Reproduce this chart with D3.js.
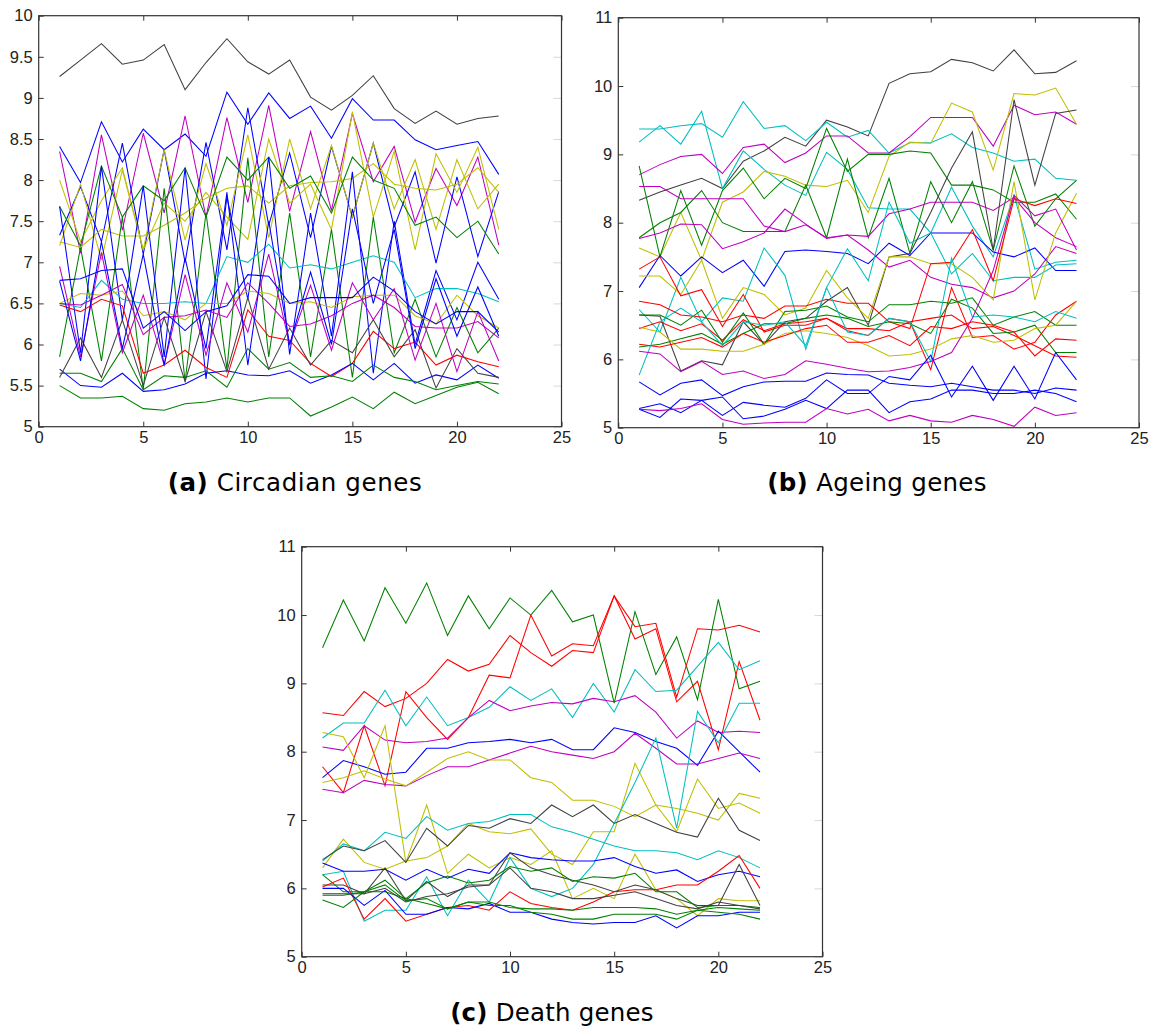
<!DOCTYPE html>
<html><head><meta charset="utf-8">
<script src="https://cdn.jsdelivr.net/npm/d3@7"></script>
<style>html,body{margin:0;padding:0;background:#fff;} svg{display:block}</style>
</head><body>
<svg id="fig" width="1151" height="1027"></svg>
<script>
// ---------------- DATA ----------------
const timePoints = [1,2,3,4,5,6,7,8,9,10,11,12,13,14,15,16,17,18,19,20,21,22];
const xTickValues = [0,5,10,15,20,25];
const xTickLabels = ['0','5','10','15','20','25'];
const circadianYTicks = [5,5.5,6,6.5,7,7.5,8,8.5,9,9.5,10];
const circadianYTickLabels = ['5','5.5','6','6.5','7','7.5','8','8.5','9','9.5','10'];
const elevenYTicks = [5,6,7,8,9,10,11];
const elevenYTickLabels = ['5','6','7','8','9','10','11'];
const captionTags = ['(a)','(b)','(c)'];
const captionTitles = ['Circadian genes','Ageing genes','Death genes'];

// MATLAB colour keys per series
const circadianColors = ['k','b','m','b','y','y','y','g','g','b','c','y','r','m','b','g','g','k','m','b','b'];
const circadianGenes = [
 [9.26,9.46,9.66,9.41,9.46,9.65,9.10,9.43,9.72,9.44,9.29,9.46,9.01,8.85,9.03,9.27,8.87,8.69,8.84,8.68,8.75,8.78],
 [8.41,7.97,8.71,8.22,8.62,8.37,8.56,8.29,9.07,8.68,9.06,8.75,8.90,8.51,8.99,8.73,8.73,8.49,8.37,8.42,8.47,8.07],
 [8.35,7.11,8.55,7.39,8.57,7.60,8.78,7.55,8.76,7.73,8.91,7.62,8.59,7.63,8.81,7.98,8.41,7.49,8.14,7.69,8.28,7.21],
 [7.33,7.92,7.25,8.45,7.10,8.37,7.00,8.46,7.15,8.88,7.45,8.33,7.30,8.41,7.55,8.45,7.43,8.10,6.99,8.04,7.07,7.86],
 [8.00,7.25,7.75,8.15,7.15,8.37,7.27,8.20,7.45,8.55,7.30,8.50,7.65,8.42,7.55,8.45,7.65,8.25,7.40,8.25,7.65,7.95],
 [7.20,7.95,7.03,8.12,7.15,7.72,7.50,7.85,7.55,7.28,8.50,7.72,7.95,7.40,8.83,7.55,8.35,7.15,8.32,7.85,8.40,7.40],
 [7.25,7.18,7.40,7.32,7.32,7.45,7.60,7.78,7.90,7.93,7.72,7.93,7.97,7.98,8.02,8.20,7.95,7.90,7.88,7.95,8.15,7.85],
 [7.68,7.20,8.17,7.55,7.93,7.75,8.15,7.55,8.28,8.00,8.28,7.90,8.05,7.60,8.28,8.00,7.90,7.45,7.55,7.30,7.50,7.10],
 [5.85,7.18,5.80,7.55,5.45,7.90,5.55,7.60,5.70,8.27,5.85,7.60,5.85,7.40,5.60,7.55,5.90,6.55,5.85,6.45,5.90,6.20],
 [7.68,5.90,8.17,6.30,7.93,5.85,8.15,5.58,7.80,6.55,8.28,5.88,7.60,6.10,8.10,5.65,7.50,6.00,6.90,6.30,7.00,6.55],
 [6.50,6.45,6.78,6.55,6.50,6.50,6.52,6.50,7.07,7.00,7.22,6.93,6.97,6.92,7.00,7.08,7.00,6.57,6.68,6.68,6.62,6.52],
 [6.50,6.62,6.60,6.65,6.35,6.40,6.30,6.50,6.50,6.65,6.62,6.50,6.52,6.45,6.58,6.60,6.60,6.35,6.25,6.60,6.35,6.20],
 [6.48,6.40,6.55,6.47,5.65,5.75,5.93,5.72,5.60,6.42,6.10,6.05,5.77,5.61,5.77,6.16,5.95,6.03,5.75,5.87,5.79,5.73],
 [6.50,6.48,6.60,6.73,6.12,6.33,6.35,6.42,6.33,6.75,6.50,6.22,6.25,6.35,6.50,6.60,6.45,6.22,6.20,6.20,6.28,6.08],
 [5.70,5.50,5.48,5.65,5.43,5.45,5.52,5.65,5.68,5.63,5.62,5.68,5.53,5.63,5.77,5.57,5.77,5.53,5.63,5.57,5.75,5.59],
 [5.50,5.35,5.35,5.37,5.22,5.20,5.28,5.30,5.35,5.30,5.35,5.35,5.13,5.24,5.36,5.22,5.42,5.28,5.38,5.48,5.54,5.40],
 [5.65,5.65,5.55,5.95,5.45,5.62,5.60,5.68,5.48,5.95,5.70,5.78,5.60,5.62,5.55,5.75,5.60,5.55,5.45,5.50,5.55,5.52],
 [5.60,6.08,5.60,6.30,5.50,6.33,5.55,6.40,5.67,6.57,5.70,6.20,5.75,6.05,5.90,6.30,5.85,6.18,5.47,5.95,5.65,5.60],
 [6.95,5.85,7.12,5.90,6.60,5.75,6.85,5.87,6.75,6.15,7.10,6.00,6.72,5.93,6.75,6.30,6.68,5.81,6.50,5.67,6.40,5.80],
 [6.77,5.80,7.25,5.95,7.10,5.75,7.05,5.95,7.85,5.75,7.50,6.00,6.88,6.00,7.65,6.50,7.40,5.95,6.80,6.10,6.70,6.10],
 [6.78,6.80,6.90,6.92,6.20,6.40,6.17,6.40,6.47,6.85,6.83,6.50,6.57,6.57,6.57,6.82,6.65,6.40,6.25,6.40,6.40,6.15]
];

const ageingColors = ['k','c','c','m','y','g','g','m','m','b','c','k','y','r','r','r','g','g','y','r','c','m','b','b','b','m'];
const ageingGenes = [
 [8.33,8.45,8.55,8.65,8.50,8.90,9.05,9.25,9.12,9.50,9.40,9.27,10.04,10.18,10.21,10.39,10.34,10.22,10.53,10.18,10.20,10.37],
 [9.37,9.37,9.42,9.45,9.25,9.77,9.38,9.42,9.20,9.47,9.25,9.35,9.02,9.17,9.17,9.30,9.10,9.02,8.90,8.93,8.65,8.62],
 [9.18,9.42,9.15,9.63,8.50,9.05,8.78,8.55,8.40,9.03,8.78,8.22,8.20,8.20,7.85,8.52,7.95,7.50,8.40,7.32,7.42,7.45],
 [8.70,8.85,8.97,9.00,8.72,9.10,9.15,8.88,9.02,9.27,9.27,9.02,9.02,9.26,9.54,9.54,9.54,9.12,9.72,9.58,9.62,9.44],
 [7.63,7.50,8.15,7.45,8.30,8.45,8.75,8.68,8.55,8.53,8.62,8.15,8.97,9.18,9.16,9.75,9.62,8.77,9.89,9.87,9.97,9.44],
 [7.78,8.00,8.15,8.47,8.00,7.87,7.87,7.87,8.55,7.78,8.93,7.78,8.65,7.55,8.60,8.00,8.60,7.60,8.83,7.95,8.35,8.62],
 [8.83,7.50,8.47,7.67,8.47,8.80,8.35,8.65,8.50,9.38,8.75,9.00,9.00,9.05,9.02,8.55,8.55,8.48,8.30,8.30,8.42,8.05],
 [8.53,8.53,8.35,8.35,8.35,8.35,7.95,7.87,7.97,7.78,7.82,7.80,8.13,8.20,8.30,8.30,8.30,8.18,8.37,8.00,7.78,7.65],
 [7.77,7.85,7.98,7.97,7.62,7.72,7.85,8.20,7.98,7.77,7.82,7.60,7.35,7.45,7.20,7.10,7.05,6.90,7.00,7.25,7.65,7.55],
 [7.05,7.52,7.22,7.50,7.27,7.45,7.07,7.58,7.60,7.58,7.55,7.40,7.70,7.52,7.85,7.85,7.85,7.57,7.50,7.63,7.30,7.30],
 [6.73,6.40,7.20,6.55,6.90,6.85,7.63,7.23,6.15,7.05,7.62,7.15,8.30,7.70,7.85,7.25,7.55,7.15,7.20,7.20,7.38,7.40],
 [6.65,6.63,5.83,5.98,5.92,6.55,6.22,6.55,6.60,6.85,7.05,6.50,7.50,7.55,8.15,8.80,9.33,7.60,9.80,8.55,9.60,9.65],
 [7.22,7.22,6.95,7.45,6.60,7.05,6.95,6.65,6.75,7.30,6.90,6.60,7.50,7.50,7.40,7.40,7.20,6.87,8.60,6.87,7.85,8.43],
 [6.85,6.80,6.65,6.62,6.55,6.65,6.60,6.78,6.78,6.88,6.82,6.82,6.55,6.45,7.40,7.42,7.90,7.15,8.35,8.25,8.35,8.28],
 [7.32,7.50,6.93,7.02,6.48,6.95,6.40,6.50,6.50,6.60,6.45,6.45,6.42,6.55,5.85,7.05,6.32,6.35,6.15,6.25,6.65,6.85],
 [6.45,6.55,6.42,6.52,6.28,6.58,6.42,6.52,6.55,6.60,6.42,6.35,6.60,6.55,6.60,6.65,6.45,6.48,6.35,6.20,6.05,6.03],
 [6.65,6.65,6.50,6.72,6.25,6.68,6.22,6.70,6.72,6.78,6.62,6.55,6.80,6.80,6.85,6.82,6.90,6.50,6.62,6.70,6.50,6.50],
 [6.18,6.22,6.30,6.38,6.22,6.38,6.52,6.52,6.60,6.65,6.60,6.48,6.55,6.52,6.38,6.88,6.75,6.38,6.40,6.50,6.10,6.10],
 [6.47,6.40,6.15,6.15,6.12,6.12,6.22,6.38,6.42,6.38,6.32,6.20,6.05,6.07,6.15,6.30,6.35,6.25,6.28,6.45,6.50,6.85],
 [6.22,6.18,6.25,6.32,6.18,6.38,6.25,6.35,6.45,6.50,6.25,6.25,6.35,6.20,6.48,6.45,6.55,6.50,6.40,6.05,6.30,6.28],
 [5.77,6.55,6.75,6.55,6.20,6.55,6.50,6.55,6.20,7.05,6.40,6.35,6.60,6.55,5.97,7.48,6.62,6.65,6.62,6.55,6.70,6.60],
 [6.12,6.08,5.82,5.97,5.78,5.83,5.72,5.78,5.98,5.93,5.87,5.82,5.83,5.88,5.97,6.10,6.60,7.30,8.40,8.10,8.20,7.60],
 [5.67,5.48,5.65,5.70,5.47,5.60,5.67,5.68,5.68,5.80,5.78,5.77,5.65,5.62,5.60,5.65,5.60,5.55,5.55,5.50,5.58,5.55],
 [5.28,5.35,5.22,5.40,5.18,5.37,5.33,5.30,5.43,5.70,5.50,5.50,5.75,5.70,6.06,5.45,5.90,5.40,5.90,5.42,6.10,5.70],
 [5.27,5.15,5.42,5.40,5.45,5.13,5.17,5.27,5.40,5.28,5.55,5.55,5.22,5.38,5.42,5.55,5.55,5.50,5.50,5.55,5.50,5.38],
 [5.27,5.25,5.28,5.35,5.12,5.05,5.07,5.08,5.08,5.28,5.20,5.27,5.10,5.18,5.10,5.08,5.18,5.12,5.02,5.30,5.18,5.22]
];

const deathColors = ['g','r','r','c','m','b','m','y','y','y','c','c','k','b','k','g','r','b','g','g','k'];
const deathGenes = [
 [9.52,10.22,9.62,10.40,9.88,10.47,9.70,10.28,9.80,10.25,10.00,10.36,9.90,10.00,8.71,10.05,9.13,9.68,8.76,10.23,8.92,9.03],
 [8.57,8.53,8.88,8.66,8.78,9.00,9.35,9.18,9.28,9.70,9.45,9.25,9.48,9.45,10.28,9.83,9.88,8.80,9.80,9.78,9.85,9.75],
 [7.78,7.40,8.38,7.50,8.88,8.50,8.18,8.50,9.12,9.08,10.00,9.40,9.58,9.55,10.28,9.65,9.80,8.73,9.03,8.03,9.32,8.46],
 [8.20,8.42,8.42,8.90,8.38,8.80,8.38,8.50,8.65,8.95,8.75,8.92,8.50,9.00,8.58,9.20,8.88,8.90,9.25,9.60,9.20,9.33],
 [8.07,8.02,8.38,8.17,8.13,8.15,8.20,8.50,8.75,8.60,8.67,8.72,8.70,8.78,8.73,8.82,8.58,8.20,8.45,8.28,8.30,8.28],
 [7.62,7.87,7.78,7.67,7.70,8.05,8.05,8.13,8.15,8.18,8.13,8.18,8.03,8.03,8.35,8.28,8.15,8.05,7.80,8.30,8.00,7.70],
 [7.45,7.40,7.58,7.52,7.50,7.65,7.78,7.78,7.88,7.98,8.08,8.00,7.95,7.90,8.00,8.27,8.05,7.82,7.82,7.90,7.98,7.90],
 [7.55,7.62,7.72,7.60,7.50,7.70,7.90,8.00,7.88,7.88,7.62,7.55,7.29,7.29,7.20,7.05,7.22,7.17,7.10,7.00,7.39,7.32],
 [8.28,8.22,7.62,8.38,6.38,7.22,6.22,6.50,6.30,6.45,6.35,6.55,5.85,6.00,5.85,6.50,5.98,5.85,5.60,5.85,5.82,5.82],
 [6.30,6.72,6.38,6.28,6.40,6.45,6.62,6.95,6.83,6.80,6.87,6.50,6.35,6.83,6.83,7.83,7.22,6.83,7.60,7.17,7.25,7.10],
 [6.40,6.65,6.55,6.82,6.73,7.05,6.85,6.95,6.98,7.08,7.08,6.90,6.82,6.72,6.62,6.55,6.55,6.52,6.42,6.55,6.45,6.30],
 [6.20,6.25,5.52,5.68,5.68,6.17,5.60,6.12,5.80,6.45,6.00,5.88,6.00,6.35,6.95,7.55,8.20,6.88,8.59,8.13,8.71,8.71],
 [6.42,6.62,6.55,6.70,6.38,6.88,6.62,6.92,6.88,7.02,6.95,7.22,7.05,7.22,6.95,7.08,6.95,6.82,6.75,7.32,6.85,6.70],
 [6.37,6.25,6.25,6.28,6.12,6.28,6.15,6.28,6.22,6.52,6.45,6.42,6.40,6.40,6.45,6.32,6.22,6.27,6.10,6.20,6.25,6.17],
 [6.05,6.05,5.92,6.30,5.82,6.10,5.88,6.05,6.05,6.52,6.30,6.20,6.12,6.05,5.95,6.05,5.98,5.85,5.75,5.75,6.35,5.75],
 [6.20,5.95,5.95,6.12,5.85,6.08,6.18,6.08,6.12,6.32,6.25,6.30,6.10,6.17,6.15,6.22,5.95,5.95,5.72,5.75,5.75,5.72],
 [6.02,6.15,5.55,5.85,5.52,5.62,5.72,5.75,5.68,5.95,5.78,5.72,5.68,5.80,5.95,5.98,5.98,6.05,6.05,6.25,6.48,6.00],
 [6.00,6.00,5.75,5.97,5.62,5.62,5.72,5.70,5.78,5.65,5.65,5.55,5.50,5.48,5.50,5.50,5.60,5.42,5.60,5.60,5.65,5.65],
 [5.83,5.72,5.95,5.95,5.85,5.78,5.70,5.80,5.75,5.75,5.65,5.62,5.55,5.55,5.62,5.62,5.62,5.55,5.68,5.65,5.62,5.55],
 [5.90,5.90,5.95,6.05,5.82,5.85,5.70,5.80,5.80,5.72,5.70,5.70,5.68,5.72,5.72,5.72,5.70,5.62,5.68,5.72,5.70,5.68],
 [5.92,5.92,5.92,6.00,5.80,5.88,5.92,6.02,6.05,6.30,6.00,5.95,5.85,5.85,5.90,5.95,5.85,5.75,5.70,5.80,5.75,5.70]
];

// ---------------- STYLE / LAYOUT ----------------
const palette = {b:'#0000ff', g:'#008000', r:'#ff0000', c:'#00bfbf', m:'#bf00bf', y:'#bfbf00', k:'#404040'};
const panels = [
  {series: circadianGenes, colors: circadianColors, yTicks: circadianYTicks, yLabels: circadianYTickLabels, yDomain:[5,10],
   left:38.7, right:561.5, top:15.7, bottom:426.7, capX:295, capY:491, capSpacing:0.6},
  {series: ageingGenes, colors: ageingColors, yTicks: elevenYTicks, yLabels: elevenYTickLabels, yDomain:[5,11],
   left:618.3, right:1139, top:17.7, bottom:427.7, capX:877, capY:491, capSpacing:0.3},
  {series: deathGenes, colors: deathColors, yTicks: elevenYTicks, yLabels: elevenYTickLabels, yDomain:[5,11],
   left:301.7, right:822.5, top:546.7, bottom:956.7, capX:552, capY:1021, capSpacing:0.2}
];

const svg = d3.select('#fig');
const tickFont = '"Liberation Sans", Arial, sans-serif';

panels.forEach((p, pi) => {
  const x = d3.scaleLinear().domain([0,25]).range([p.left, p.right]);
  const y = d3.scaleLinear().domain(p.yDomain).range([p.bottom, p.top]);
  const g = svg.append('g');

  // lines
  const line = d3.line().x((d,i) => x(timePoints[i])).y(d => y(d));
  g.append('g').selectAll('path').data(p.series).join('path')
    .attr('d', d => line(d))
    .attr('fill','none')
    .attr('stroke', (d,i) => palette[p.colors[i]])
    .attr('stroke-width', 1.05)
    .attr('stroke-linejoin','miter');

  // axes
  const styleAxis = (sel, color) => {
    sel.select('.domain').remove();
    sel.selectAll('.tick line').attr('stroke', color).attr('stroke-width', 1);
    sel.selectAll('.tick text').attr('font-family', tickFont).attr('font-size', 16.5).attr('fill', '#222');
  };
  const bottomAxis = d3.axisBottom(x).tickValues(xTickValues).tickFormat((d,i) => xTickLabels[i]).tickSizeInner(-5).tickSizeOuter(0).tickPadding(5);
  g.append('g').attr('transform', `translate(0,${p.bottom})`).call(bottomAxis).call(s => styleAxis(s, '#333'));
  const topAxis = d3.axisTop(x).tickValues(xTickValues).tickFormat('').tickSizeInner(-5).tickSizeOuter(0);
  g.append('g').attr('transform', `translate(0,${p.top})`).call(topAxis).call(s => styleAxis(s, '#333'));
  const leftAxis = d3.axisLeft(y).tickValues(p.yTicks).tickFormat((d,i) => p.yLabels[i]).tickSizeInner(-5).tickSizeOuter(0).tickPadding(6);
  g.append('g').attr('transform', `translate(${p.left},0)`).call(leftAxis).call(s => styleAxis(s, '#333'));
  const rightAxis = d3.axisRight(y).tickValues(p.yTicks).tickFormat('').tickSizeInner(-8).tickSizeOuter(0);
  g.append('g').attr('transform', `translate(${p.right},0)`).call(rightAxis).call(s => styleAxis(s, '#d8d8d8'));

  // box
  g.append('rect').attr('x', p.left).attr('y', p.top)
    .attr('width', p.right - p.left).attr('height', p.bottom - p.top)
    .attr('fill','none').attr('stroke','#333').attr('stroke-width',1.2);

  // caption
  const cap = svg.append('text').attr('x', p.capX).attr('y', p.capY)
    .attr('text-anchor','middle').attr('font-family','"DejaVu Sans", sans-serif').attr('font-size', 24.5)
    .attr('letter-spacing', p.capSpacing).attr('fill','#000');
  cap.append('tspan').attr('font-weight','bold').text(captionTags[pi]);
  cap.append('tspan').text(' ' + captionTitles[pi]);
});
</script>
</body></html>
